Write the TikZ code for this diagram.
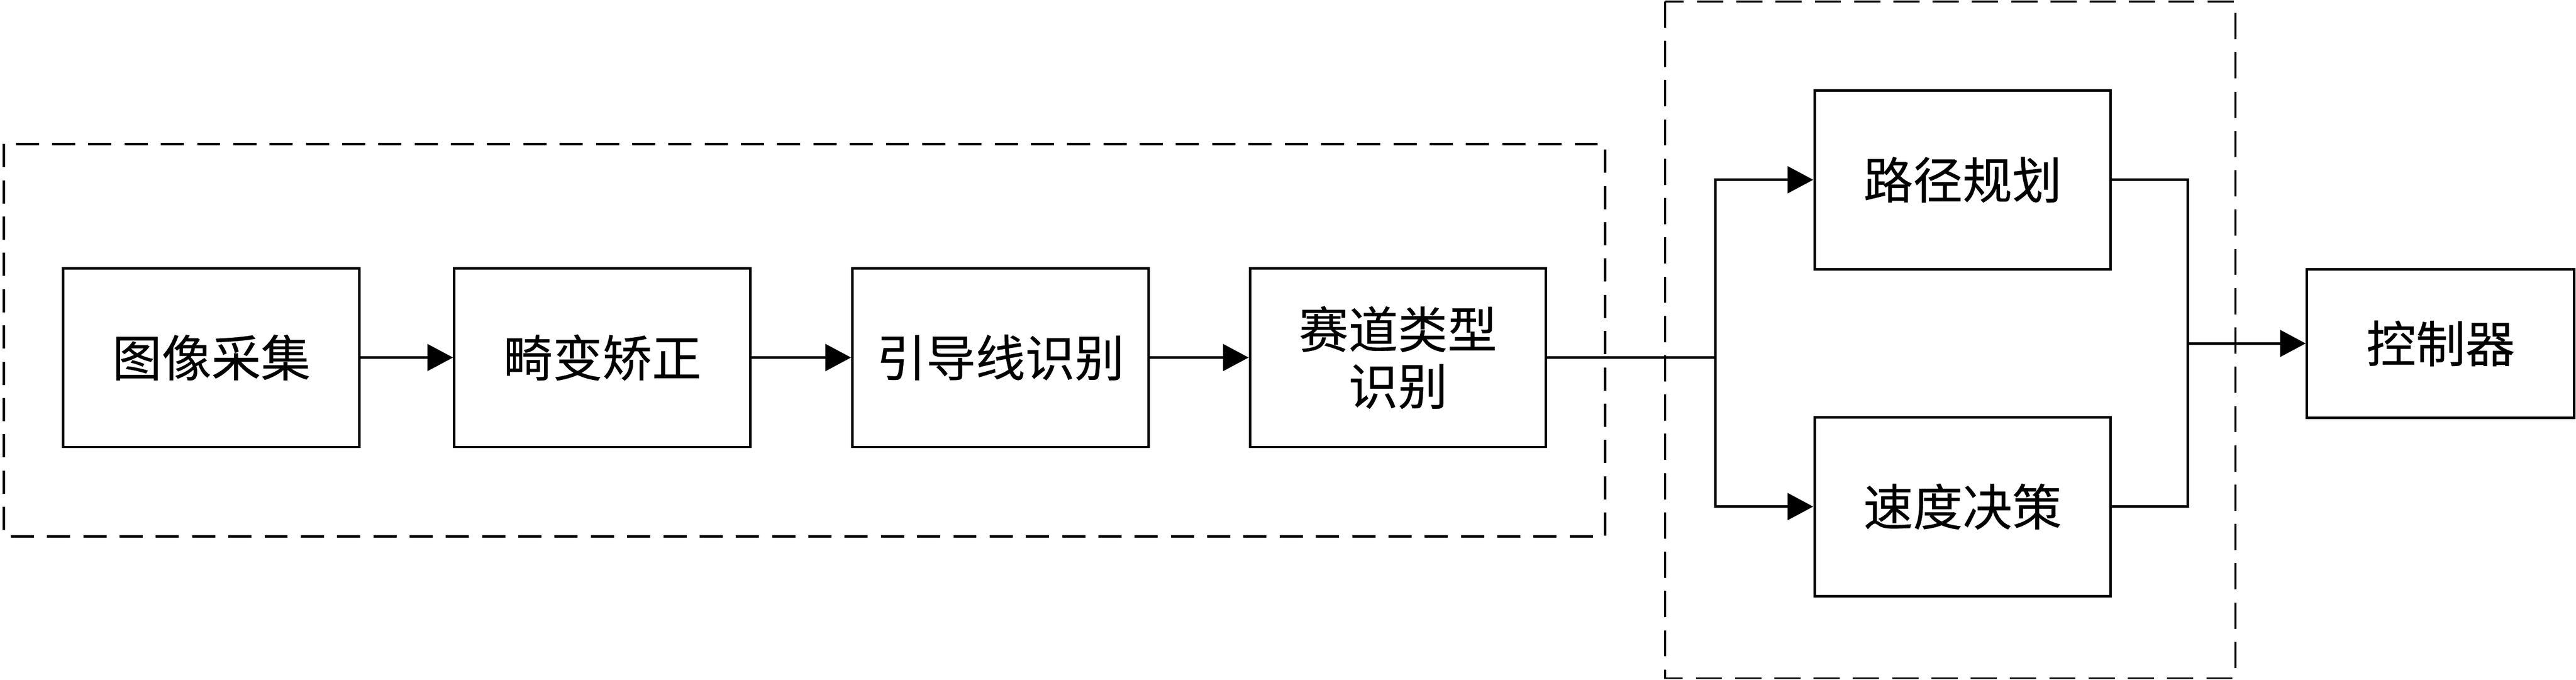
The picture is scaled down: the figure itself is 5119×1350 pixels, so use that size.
\documentclass[tikz,border=0pt]{standalone}
\usepackage{fontspec}
\setmainfont{Noto Sans CJK SC}[FakeBold=0.35]
\usetikzlibrary{arrows.meta}
\begin{document}
\begin{tikzpicture}[x=0.01cm,y=-0.01cm,
  blk/.style={draw=black,line width=1.45pt,fill=white,inner sep=0pt,minimum width=5.88cm,minimum height=3.55cm,align=center,font=\fontsize{28}{32}\selectfont},
  conn/.style={line width=1.45pt},
  arr/.style={line width=1.45pt,-{Triangle[length=0.51cm,width=0.53cm]}},
  grp/.style={line width=1.45pt,dash pattern=on 0.46cm off 0.26cm},
  grpb/.style={line width=1.0pt,dash pattern=on 0.52cm off 0.26cm}]
\useasboundingbox (0,0) rectangle (5119,1350);
\fill[white] (0,0) rectangle (5119,1350);
\draw[grp] (8,286) rectangle (3190,1065);
\draw[grpb] (3309,3) rectangle (4442,1347);
\node[blk] (n1) at (420,710) {图像采集};
\node[blk] (n2) at (1197,710) {畸变矫正};
\node[blk] (n3) at (1988,710) {引导线识别};
\node[blk] (n4) at (2778,710) {赛道类型\\识别};
\node[blk] (p) at (3900,357) {路径规划};
\node[blk] (s) at (3900,1006) {速度决策};
\node[blk,minimum width=5.31cm,minimum height=2.95cm] (c) at (4850,682) {控制器};
\coordinate (split) at (3409,710);
\coordinate (merge) at (4347,682);
\draw[arr] (n1) -- (n2);
\draw[arr] (n2) -- (n3);
\draw[arr] (n3) -- (n4);
\draw[conn] (n4.east) -- (split);
\draw[arr] (split) |- (p.west);
\draw[arr] (split) |- (s.west);
\draw[conn] (p.east) -| (merge);
\draw[conn] (s.east) -| (merge);
\draw[arr] (merge) -- (c.west);
\end{tikzpicture}
\end{document}
